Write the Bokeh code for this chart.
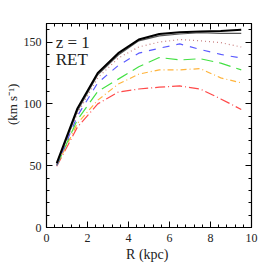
import math
from bokeh.plotting import figure
from bokeh.models import LinearAxis, Label, FixedTicker, Range1d
from bokeh.embed import file_html
from bokeh.resources import INLINE

R = [0.5, 1.5, 2.5, 3.5, 4.5, 5.5, 6.5, 7.5, 8.5, 9.5]
v_total = [52, 96, 125, 141, 152, 156.5, 158, 158.5, 159, 160]
v_total2 = [51, 94, 123.5, 139.5, 151, 155, 156.5, 157.5, 157, 157]
v_dot = [50, 92, 121, 137, 146, 150, 152, 151, 149.5, 146]
v_blue = [50, 90, 117, 131, 141, 145, 148.5, 144, 140, 137]
v_green = [50, 87, 110, 120, 130, 137.5, 135.5, 136.5, 133, 127.5]
v_orange = [50, 84, 103, 116, 124, 127.5, 127.5, 128.5, 121, 117]
v_red = [49.5, 81, 100, 109.5, 112, 113.5, 114.5, 112, 104, 95.5]

x_ticks = [0, 2, 4, 6, 8, 10]
y_ticks = [0, 50, 100, 150]
FONT = "Liberation Serif"

p = figure(width=265, height=265, output_backend="svg", toolbar_location=None,
           x_range=Range1d(0, 10), y_range=Range1d(0, 165),
           min_border_left=46, min_border_right=14, min_border_top=23, min_border_bottom=38,
           x_axis_type=None, y_axis_type=None)
p.outline_line_color = "black"
p.outline_line_width = 1.2
p.grid.visible = False
p.background_fill_color = "white"

minor_x = [i * 0.4 for i in range(26)]
minor_y = list(range(0, 170, 10))

def make_axis(show_labels, ticks, minor):
    ax = LinearAxis(ticker=FixedTicker(ticks=ticks, minor_ticks=minor))
    ax.major_tick_in = 6
    ax.major_tick_out = 0
    ax.minor_tick_in = 3
    ax.minor_tick_out = 0
    ax.axis_line_color = "black"
    ax.major_tick_line_color = "black"
    ax.minor_tick_line_color = "black"
    ax.major_label_text_font = FONT
    ax.major_label_text_font_size = "12px"
    ax.major_label_text_color = "#222222"
    ax.major_label_standoff = 6
    if not show_labels:
        ax.major_label_text_font_size = "0px"
        ax.major_label_text_color = None
        ax.major_label_standoff = 0
    return ax

xb = make_axis(True, x_ticks, minor_x)
xb.axis_label = "R  (kpc)"
xb.axis_label_text_font = FONT
xb.axis_label_text_font_size = "14px"
xb.axis_label_text_font_style = "normal"
xb.axis_label_standoff = 2
xb.axis_label_text_color = "#222222"
p.add_layout(xb, "below")
p.add_layout(make_axis(False, x_ticks, minor_x), "above")

yl = make_axis(True, y_ticks, minor_y)
yl.major_label_standoff = 5
yl.axis_label = "\u2003\u2003\u2003\u00a0(km s\u207b\u00b9)"
yl.axis_label_text_font = FONT
yl.axis_label_text_font_size = "13px"
yl.axis_label_text_font_style = "normal"
yl.axis_label_standoff = 1
yl.axis_label_text_color = "#222222"
p.add_layout(yl, "left")
p.add_layout(make_axis(False, y_ticks, minor_y), "right")

p.line(R, v_red, line_color="#ff4a4a", line_width=1.2, line_dash="10 3 1 3")
p.line(R, v_orange, line_color="#ffb43c", line_width=1.2, line_dash="6 3 1 3")
p.line(R, v_green, line_color="#44e044", line_width=1.2, line_dash="12 6")
p.line(R, v_blue, line_color="#5a5aff", line_width=1.2, line_dash="7 7")
p.line(R, v_dot, line_color="#c88080", line_width=1.2, line_dash="1 3")
p.line(R, v_total2, line_color="#555555", line_width=1.2)
p.line(R, v_total, line_color="black", line_width=2)

p.add_layout(Label(x=0.45, y=150, text="z = 1", text_font=FONT, text_font_size="17px",
                   text_color="#222222", text_baseline="alphabetic"))
p.add_layout(Label(x=0.45, y=136, text="RET", text_font=FONT, text_font_size="17px",
                   text_color="#222222", text_baseline="alphabetic"))

open("out.html", "w").write(file_html(p, INLINE))
